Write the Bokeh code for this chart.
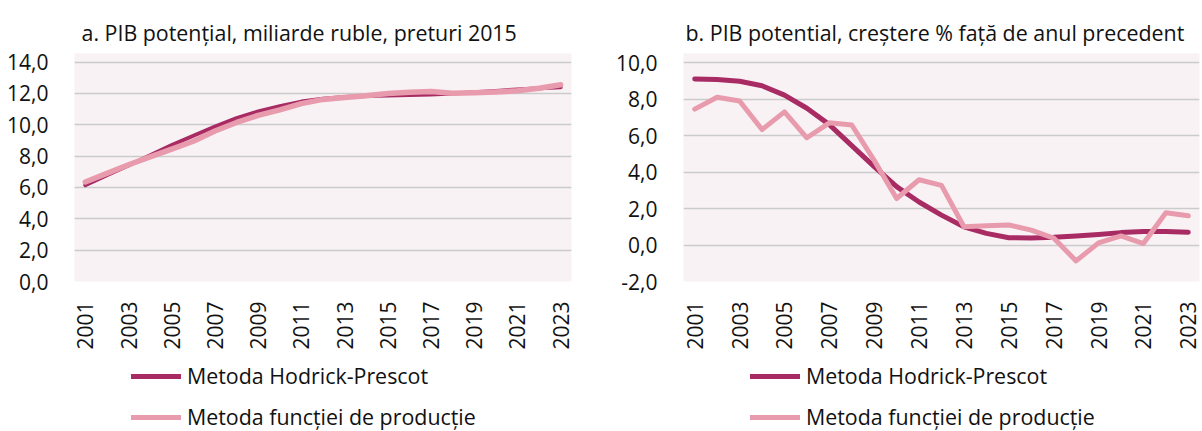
import math
from bokeh.plotting import figure
from bokeh.models import Range1d, FixedTicker, CustomJSTickFormatter, Legend, LegendItem
from bokeh.layouts import row, column
from bokeh.embed import file_html
from bokeh.resources import INLINE

years = ["2001", "2002", "2003", "2004", "2005", "2006", "2007", "2008", "2009", "2010", "2011", "2012",
         "2013", "2014", "2015", "2016", "2017", "2018", "2019", "2020", "2021", "2022", "2023"]
shown_years = ["2001", "2003", "2005", "2007", "2009", "2011", "2013", "2015", "2017", "2019", "2021", "2023"]

hp_level = [6.15, 6.78, 7.4, 8.05, 8.7, 9.3, 9.88, 10.42, 10.85, 11.18, 11.48, 11.66, 11.77, 11.83, 11.87,
            11.9, 11.94, 12.0, 12.07, 12.16, 12.26, 12.33, 12.4]
pf_level = [6.35, 6.9, 7.45, 7.95, 8.45, 8.95, 9.6, 10.15, 10.6, 10.95, 11.35, 11.62, 11.74, 11.85, 12.0,
            12.08, 12.12, 12.02, 12.05, 12.1, 12.17, 12.33, 12.55]

hp_growth = [9.1, 9.08, 8.98, 8.73, 8.22, 7.5, 6.6, 5.45, 4.3, 3.2, 2.36, 1.64, 1.0, 0.64, 0.4, 0.38, 0.42,
             0.5, 0.58, 0.68, 0.74, 0.74, 0.7]
pf_growth = [7.45, 8.1, 7.9, 6.33, 7.3, 5.88, 6.7, 6.58, 4.64, 2.55, 3.58, 3.27, 1.0, 1.05, 1.1, 0.82, 0.38,
             -0.87, 0.12, 0.5, 0.08, 1.77, 1.6]

ticks_a = [0, 2, 4, 6, 8, 10, 12, 14]
ticks_b = [-2, 0, 2, 4, 6, 8, 10]

title_a = "a. PIB potențial, miliarde ruble, preturi 2015"
title_b = "b. PIB potential, creștere % față de anul precedent"
series_names = ["Metoda Hodrick-Prescot", "Metoda funcției de producție"]

DARK = "#A82B63"
LIGHT = "#E99BAE"
BG = "#F9F2F5"
FONT = "Open Sans"
TXT = "#111111"

x_years = [int(y) for y in years]
x_ticks = [int(y) for y in shown_years]


def make_fig(title, hp, pf, ticks, y0, y1, width, bl, br, bb, title_offset, hp_w, pf_w):
    p = figure(width=width, height=358, x_range=Range1d(x_years[0] - 0.5, x_years[-1] + 0.5),
               y_range=Range1d(y0, y1), output_backend="svg", toolbar_location=None,
               min_border_left=bl, min_border_right=br, min_border_top=53, min_border_bottom=bb)
    p.title.text = title
    p.title.text_font = FONT
    p.title.text_font_size = "21.4px"
    p.title.text_font_style = "normal"
    p.title.text_color = TXT
    p.title.align = "left"
    p.title.offset = title_offset
    p.title.standoff = 14
    p.background_fill_color = BG
    p.border_fill_color = "white"
    p.outline_line_color = None

    p.line(x_years, hp, line_color=DARK, line_width=hp_w, line_join="round", line_cap="round")
    p.line(x_years, pf, line_color=LIGHT, line_width=pf_w, line_join="round", line_cap="round")

    p.xgrid.grid_line_color = None
    p.ygrid.grid_line_color = "#CBCBCB"
    p.ygrid.grid_line_width = 1.5

    p.yaxis.ticker = FixedTicker(ticks=ticks)
    p.yaxis.formatter = CustomJSTickFormatter(code="return tick.toFixed(1).replace('.', ',');")
    p.xaxis.ticker = FixedTicker(ticks=x_ticks)
    p.xaxis.formatter = CustomJSTickFormatter(code="return tick.toFixed(0);")
    for ax in (p.xaxis[0], p.yaxis[0]):
        ax.axis_line_color = None
        ax.major_tick_line_color = None
        ax.minor_tick_line_color = None
        ax.major_label_text_font = FONT
        ax.major_label_text_font_size = "21px"
        ax.major_label_text_color = TXT
    p.yaxis.major_label_standoff = 20
    p.xaxis.major_label_standoff = 14
    p.xaxis.major_label_orientation = math.pi / 2
    return p


def make_legend_fig(width, vx, hp, pf):
    # the legend lives in its own strip; its sample renderers lie outside the strip's visible ranges
    lf = figure(width=width, height=73, output_backend="svg", toolbar_location=None,
                x_axis_type=None, y_axis_type=None, min_border=0,
                x_range=Range1d(0, 1), y_range=Range1d(0, 1))
    lf.outline_line_color = None
    lf.background_fill_color = "white"
    lf.border_fill_color = "white"
    lf.grid.grid_line_color = None
    r1 = lf.line(x_years, hp, line_color=DARK, line_width=5, line_cap="round")
    r2 = lf.line(x_years, pf, line_color=LIGHT, line_width=5, line_cap="round")
    legend = Legend(items=[LegendItem(label=series_names[0], renderers=[r1]),
                           LegendItem(label=series_names[1], renderers=[r2])],
                    location=(vx, 0), orientation="vertical",
                    glyph_width=50, glyph_height=28, label_height=28, label_standoff=6,
                    spacing=12, padding=0, margin=0,
                    label_text_font=FONT, label_text_font_size="21.4px", label_text_color=TXT,
                    background_fill_alpha=0, border_line_alpha=0)
    lf.add_layout(legend, "center")
    return lf


pa = make_fig(title_a, hp_level, pf_level, ticks_a, 0, 14.55, 600, 74, 29, 74, 7, 4, 5.5)
pb = make_fig(title_b, hp_growth, pf_growth, ticks_b, -2, 10.5, 602, 83, 3, 77, 2, 5, 5)
la = make_legend_fig(600, 131, hp_level, pf_level)
lb = make_legend_fig(602, 150, hp_growth, pf_growth)

layout = column(row(pa, pb, spacing=0), row(la, lb, spacing=0), spacing=0)
open("out.html", "w").write(file_html(layout, INLINE))
